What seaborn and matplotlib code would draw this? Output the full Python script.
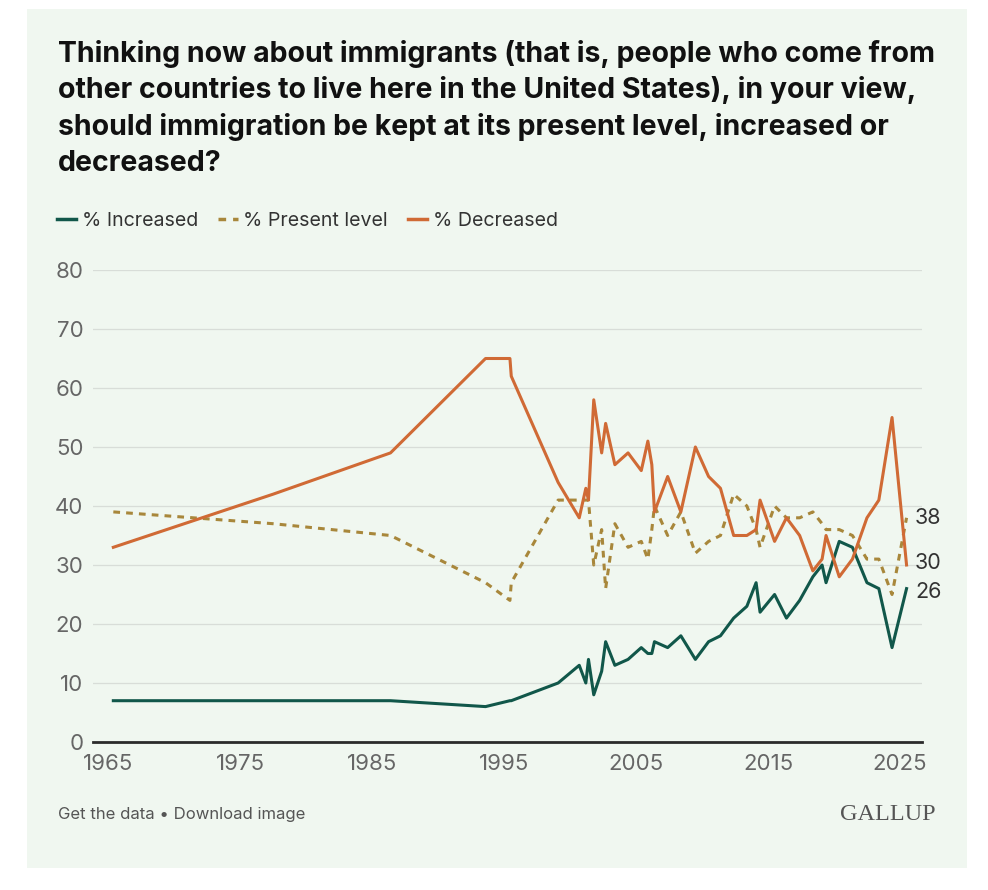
import pandas as pd
import matplotlib.pyplot as plt
import seaborn as sns
from matplotlib.lines import Line2D

# Gallup trend (year as decimal)
years = [1965.4, 1977.5, 1986.4, 1993.6, 1995.45, 1995.55, 1999.1, 2000.7,
         2001.2, 2001.4, 2001.8, 2002.4, 2002.7, 2003.4, 2004.4, 2005.4,
         2005.9, 2006.2, 2006.4, 2007.4, 2008.4, 2009.5, 2010.5, 2011.4,
         2012.4, 2013.4, 2014.1, 2014.4, 2015.5, 2016.4, 2017.4, 2018.4,
         2019.1, 2019.4, 2020.4, 2021.4, 2022.5, 2023.4, 2024.4, 2025.5]
increased = [7, 7, 7, 6, 7, 7, 10, 13, 10, 14, 8, 12, 17, 13, 14, 16,
             15, 15, 17, 16, 18, 14, 17, 18, 21, 23, 27, 22, 25, 21, 24, 28,
             30, 27, 34, 33, 27, 26, 16, 26]
present = [39, 37, 35, 27, 24, 27, 41, 41, 41, 41, 30, 36, 26, 37, 33, 34,
           31, 36, 40, 35, 39, 32, 34, 35, 42, 40, 36, 33, 40, 38, 38, 39,
           37, 36, 36, 35, 31, 31, 25, 38]
decreased = [33, 42, 49, 65, 65, 62, 44, 38, 43, 41, 58, 49, 54, 47, 49, 46,
             51, 47, 39, 45, 39, 50, 45, 43, 35, 35, 36, 41, 34, 38, 35, 29,
             31, 35, 28, 31, 38, 41, 55, 30]

series_names = ["% Increased", "% Present level", "% Decreased"]
colors = {"% Increased": "#11574a", "% Present level": "#a8873b", "% Decreased": "#d06a35"}

df = pd.DataFrame({"year": years, "% Increased": increased,
                   "% Present level": present, "% Decreased": decreased})
long = df.melt(id_vars="year", var_name="series", value_name="pct")

bg = "#f0f7f0"
plt.rcParams["font.family"] = ["Inter", "DejaVu Sans"]

fig = plt.figure(figsize=(9.88, 8.9), dpi=100)
fig.patch.set_facecolor("white")
panel = plt.Rectangle((27 / 988, 1 - 868 / 890), 940 / 988, 859 / 890,
                      transform=fig.transFigure, facecolor=bg, edgecolor="none", zorder=-5)
fig.patches.append(panel)

ax = fig.add_axes([93 / 988, 1 - 742 / 890, 829 / 988, 472 / 890])
ax.set_facecolor(bg)

sns.lineplot(data=long, x="year", y="pct", hue="series", hue_order=series_names,
             style="series", style_order=series_names,
             dashes={"% Increased": "", "% Present level": (2.2, 2.0), "% Decreased": ""},
             palette=colors, linewidth=2.2, estimator=None, sort=True, legend=False, ax=ax)

ax.set_xlim(1963.86, 2026.67)
ax.set_ylim(0, 80)
ax.set_xticks([1965, 1975, 1985, 1995, 2005, 2015, 2025])
ax.set_yticks(range(0, 81, 10))
ax.set_xlabel("")
ax.set_ylabel("")
ax.tick_params(axis="both", length=0, labelsize=16, labelcolor="#666666")
ax.tick_params(axis="x", pad=9)
ax.tick_params(axis="y", pad=7)
ax.grid(axis="y", color="#d8ddd8", linewidth=0.9)
ax.grid(axis="x", visible=False)
ax.set_axisbelow(True)
for s in ["top", "right", "left"]:
    ax.spines[s].set_visible(False)
ax.spines["bottom"].set_color("#2b2b2b")
ax.spines["bottom"].set_linewidth(2)

# end labels
last = df.iloc[-1]
for name, dy in [("% Present level", 0), ("% Decreased", 0.3), ("% Increased", -0.5)]:
    ax.annotate(f"{last[name]:.0f}", xy=(last["year"], last[name] + dy),
                xytext=(6, 0), textcoords="offset points", va="center", ha="left",
                fontsize=15.5, color="#333333")

# title
title_lines = ["Thinking now about immigrants (that is, people who come from",
               "other countries to live here in the United States), in your view,",
               "should immigration be kept at its present level, increased or",
               "decreased?"]
for i, line in enumerate(title_lines):
    fig.text(58 / 988, 1 - (54 + i * 36.5) / 890, line, fontsize=20.5,
             fontweight="bold", color="#111111", va="center", ha="left")

# legend
handles = [Line2D([], [], color=colors[n], linewidth=2.5,
                  linestyle=(0, (2.2, 2.0)) if n == "% Present level" else "-")
           for n in series_names]
fig.legend(handles, series_names, loc="center left", bbox_to_anchor=(39 / 988, 1 - 221 / 890),
           ncol=3, frameon=False, fontsize=14.1, handlelength=1.0, handletextpad=0.3,
           columnspacing=1.0, labelcolor="#333333")

# footer
fig.text(58 / 988, 1 - 815 / 890, "Get the data \u2022 Download image", fontsize=12,
         color="#555555", va="center", ha="left")
fig.text(936 / 988, 1 - 815 / 890, "GALLUP", fontsize=17.5, color="#555555",
         family="Liberation Serif", va="center", ha="right")

fig.savefig("out.png", dpi=100, facecolor="white")
